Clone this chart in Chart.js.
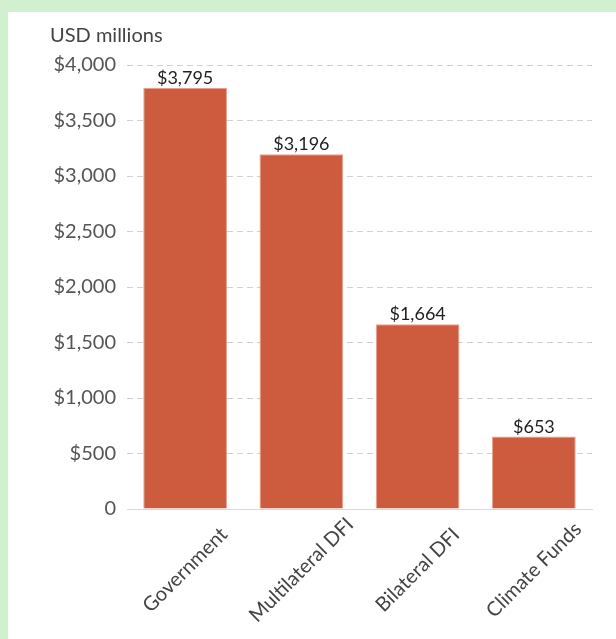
<!DOCTYPE html>
<html>
<head>
<meta charset="utf-8">
<script src="https://cdn.jsdelivr.net/npm/chart.js@4"></script>
<style>
  html, body { margin: 0; padding: 0; }
  body { width: 616px; height: 639px; background: #d0f0cf; position: relative; overflow: hidden; font-family: Lato, "Open Sans", sans-serif; }
  #panel { position: absolute; left: 8px; top: 12px; width: 608px; height: 627px; background: #ffffff; }
  #unit { position: absolute; left: 42px; top: 10px; font-size: 20px; line-height: 24px; color: #444; font-family: Lato, sans-serif; }
  #wrap { position: absolute; left: 0; top: 0; width: 608px; height: 627px; }
</style>
</head>
<body>
<div id="panel">
  <div id="wrap"><canvas id="c" width="608" height="627"></canvas></div>
  <div id="unit">USD millions</div>
</div>
<script>
const categories = ["Government", "Multilateral DFI", "Bilateral DFI", "Climate Funds"];
const values = [3795, 3196, 1664, 653];
const yTicks = [0, 500, 1000, 1500, 2000, 2500, 3000, 3500, 4000];

const fmt = v => v === 0 ? "0" : "$" + v.toLocaleString("en-US");

const labelPlugin = {
  id: "labels",
  afterDatasetsDraw(chart) {
    const ctx = chart.ctx;
    const meta = chart.getDatasetMeta(0);
    ctx.save();
    ctx.font = "18px Lato, sans-serif";
    ctx.fillStyle = "#1f1f1f";
    ctx.textAlign = "center";
    ctx.textBaseline = "alphabetic";
    meta.data.forEach((bar, i) => {
      ctx.fillText(fmt(values[i]), bar.x, bar.y - 4);
    });
    ctx.restore();
  },
  afterDraw(chart) {
    const ctx = chart.ctx;
    const xs = chart.scales.x;
    const y0 = chart.chartArea.bottom;
    ctx.save();
    ctx.font = "20px Lato, sans-serif";
    ctx.fillStyle = "#444";
    ctx.textAlign = "center";
    ctx.textBaseline = "middle";
    categories.forEach((c, i) => {
      const x = xs.getPixelForValue(i);
      ctx.save();
      ctx.translate(x, y0 + 61);
      ctx.rotate(-Math.PI / 4);
      ctx.fillText(c, 0, 0);
      ctx.restore();
    });
    ctx.restore();
  }
};

new Chart(document.getElementById("c"), {
  type: "bar",
  data: {
    labels: categories,
    datasets: [{
      data: values,
      backgroundColor: "#cd5b3d",
      borderColor: "#e8a08e",
      borderWidth: 1,
      categoryPercentage: 1,
      barPercentage: 0.72
    }]
  },
  options: {
    responsive: false,
    animation: false,
    events: [],
    layout: { padding: { top: 53, right: 24, left: 0, bottom: 0 } },
    plugins: { legend: { display: false }, tooltip: { enabled: false }, title: { display: false } },
    scales: {
      x: {
        grid: { display: true, color: "rgba(0,0,0,0)", drawTicks: false },
        border: { display: true, color: "#d9d9d9", width: 1 },
        ticks: { display: false },
        afterFit(s) { s.height = 130; }
      },
      y: {
        min: 0,
        max: 4000,
        afterBuildTicks(s) { s.ticks = yTicks.map(v => ({ value: v })); },
        grid: {
          drawTicks: false,
          color: ctx => ctx.tick && ctx.tick.value === 0 ? "rgba(0,0,0,0)" : "#d2d2d2",
          lineWidth: 1
        },
        border: { display: false, dash: [6, 4] },
        ticks: {
          padding: 11,
          color: "#555",
          font: { family: "Lato", size: 20 },
          callback: v => fmt(v)
        },
        afterFit(s) { s.width = 119; }
      }
    }
  },
  plugins: [labelPlugin]
});
</script>
</body>
</html>
